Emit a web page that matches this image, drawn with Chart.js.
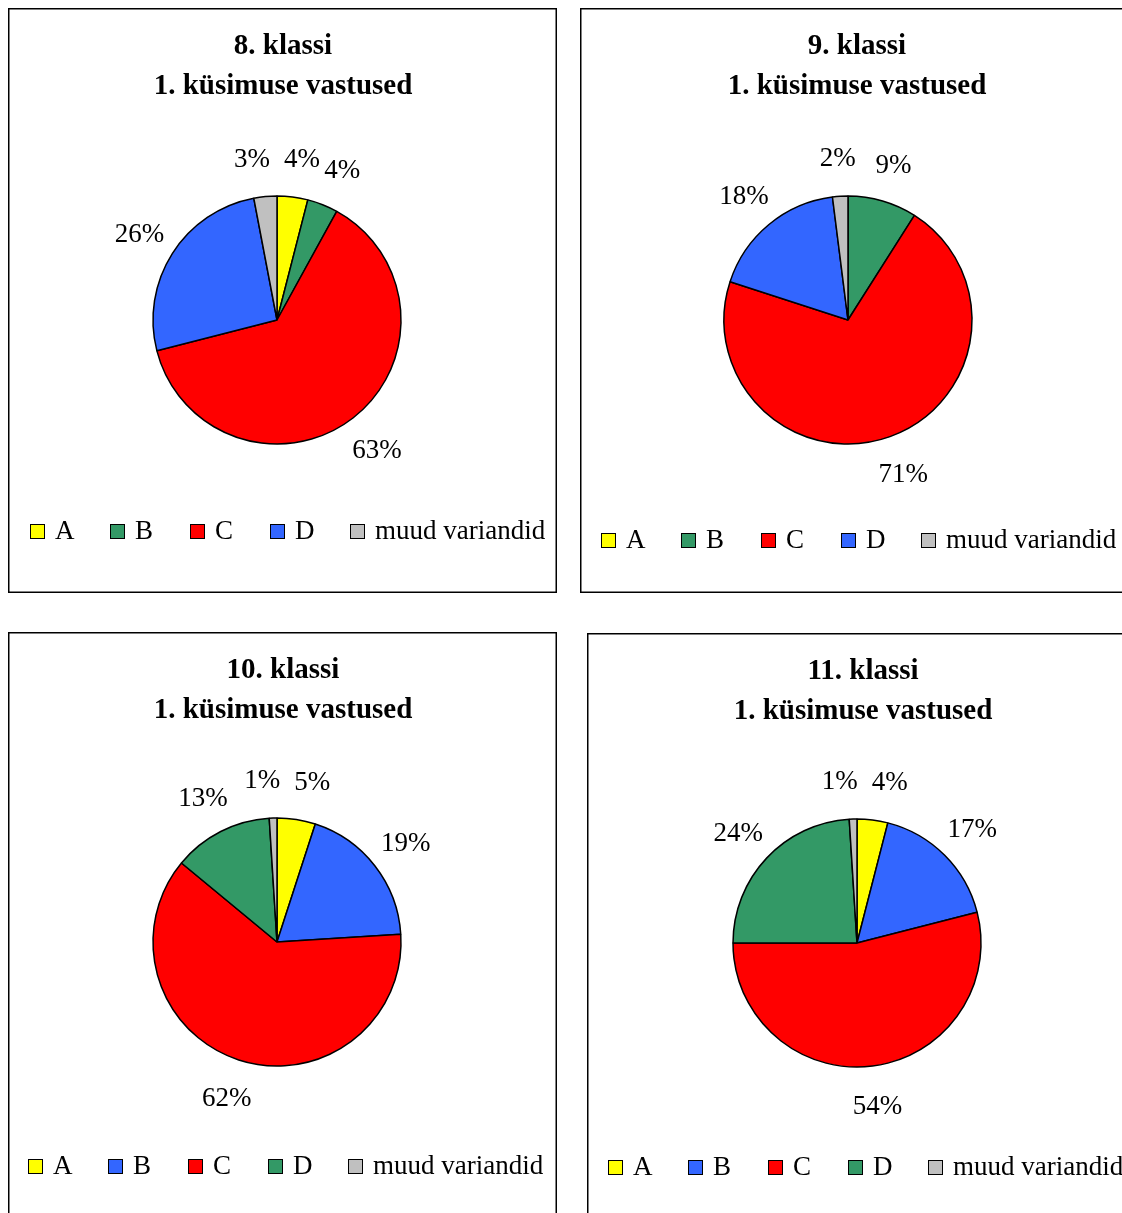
<!DOCTYPE html>
<html>
<head>
<meta charset="utf-8">
<script src="https://cdn.jsdelivr.net/npm/chart.js@4.4.0/dist/chart.umd.min.js"></script>
<style>
  body { margin: 0; background: #fff; width: 1122px; height: 1213px; overflow: hidden; position: relative; }
  .panel { position: absolute; }
</style>
</head>
<body>
<canvas class="panel" id="c8" style="left:8px;top:8px"></canvas>
<canvas class="panel" id="c9" style="left:580px;top:8px"></canvas>
<canvas class="panel" id="c10" style="left:8px;top:632px"></canvas>
<canvas class="panel" id="c11" style="left:587px;top:633px"></canvas>
<script>
//data
const answers = ["A", "B", "C", "D", "muud variandid"];
const grade8 = [4, 4, 63, 26, 3];
const grade9 = [0, 9, 71, 18, 2];
const grade10 = [5, 19, 62, 13, 1];
const grade11 = [4, 17, 54, 24, 1];
const subtitle = "1. küsimuse vastused";

//colours (8./9. and 10./11. use B and D the other way round)
const yellow = "#FFFF00", green = "#339966", red = "#FF0000", blue = "#3366FF", grey = "#C0C0C0";
const colorsLow = [yellow, green, red, blue, grey];
const colorsHigh = [yellow, blue, red, green, grey];

const W = 549, H = 585;
const serif = "'Liberation Serif', 'Times New Roman', serif";

// frame, titles, legend and outside % labels
const panelDecor = {
  id: "panelDecor",
  beforeDraw(chart) {
    const ctx = chart.ctx;
    ctx.save();
    ctx.strokeStyle = "#000";
    ctx.lineWidth = 1.5;
    ctx.strokeRect(0.75, 0.75, W - 1.5, H - 1.5);
    ctx.restore();
  },
  afterDatasetsDraw(chart, args, opts) {
    const ctx = chart.ctx;
    const ds = chart.data.datasets[0];
    const meta = chart.getDatasetMeta(0);
    ctx.save();

    // title
    ctx.fillStyle = "#000";
    ctx.textAlign = "center";
    ctx.textBaseline = "middle";
    ctx.font = "bold 29px " + serif;
    ctx.fillText(opts.title, opts.titleX, opts.titleY);
    ctx.fillText(subtitle, opts.titleX, opts.titleY + 40);

    // percentage labels
    ctx.font = "27px " + serif;
    const labs = [];
    meta.data.forEach((arc, i) => {
      const v = ds.data[i];
      if (!v) return;
      const mid = (arc.startAngle + arc.endAngle) / 2;
      const text = Math.round(v) + "%";
      labs.push({
        text,
        x: arc.x + Math.cos(mid) * opts.labelDist,
        y: arc.y + Math.sin(mid) * opts.labelDist + 2,
        w: ctx.measureText(text).width
      });
    });
    for (let i = 0; i < labs.length; i++) {
      for (let j = i + 1; j < labs.length; j++) {
        const a = labs[i], b = labs[j];
        if (Math.abs(a.y - b.y) > 24) continue;
        const need = (a.w + b.w) / 2 + 14 - Math.abs(a.x - b.x);
        if (need > 0) {
          const s = a.x < b.x ? -1 : 1;
          a.x += s * need / 2;
          b.x -= s * need / 2;
        }
      }
    }
    labs.forEach((l) => ctx.fillText(l.text, l.x, l.y));

    // legend
    ctx.textAlign = "left";
    chart.data.labels.forEach((lab, i) => {
      const x = opts.legendX + i * 80;
      ctx.fillStyle = ds.backgroundColor[i];
      ctx.fillRect(x, opts.legendY - 7, 15, 15);
      ctx.strokeStyle = "#000";
      ctx.lineWidth = 1;
      ctx.strokeRect(x + 0.5, opts.legendY - 6.5, 14, 14);
      ctx.fillStyle = "#000";
      ctx.fillText(lab, x + 25, opts.legendY + 1);
    });
    ctx.restore();
  }
};

function makePie(canvasId, title, values, colors, layout) {
  const canvas = document.getElementById(canvasId);
  canvas.width = W;
  canvas.height = H;
  // put the centre of the chart area on the pie centre
  const dx = 2 * layout.cx - W, dy = 2 * layout.cy - H;
  return new Chart(canvas, {
    type: "pie",
    data: {
      labels: answers,
      datasets: [{
        data: values,
        backgroundColor: colors,
        borderColor: "#000",
        borderWidth: 1.5,
        radius: 124
      }]
    },
    options: {
      responsive: false,
      animation: false,
      events: [],
      layout: {
        padding: {
          left: Math.max(dx, 0), right: Math.max(-dx, 0),
          top: Math.max(dy, 0), bottom: Math.max(-dy, 0)
        }
      },
      plugins: {
        legend: { display: false },
        title: { display: false },
        tooltip: { enabled: false },
        panelDecor: {
          title: title,
          titleX: layout.titleX,
          titleY: 39,
          labelDist: 163,
          legendX: layout.legendX,
          legendY: layout.legendY
        }
      }
    },
    plugins: [panelDecor]
  });
}

makePie("c8", "8. klassi", grade8, colorsLow, { cx: 269, cy: 312, titleX: 275, legendX: 22, legendY: 523 });
makePie("c9", "9. klassi", grade9, colorsLow, { cx: 268, cy: 312, titleX: 277, legendX: 21, legendY: 532 });
makePie("c10", "10. klassi", grade10, colorsHigh, { cx: 269, cy: 310, titleX: 275, legendX: 20, legendY: 534 });
makePie("c11", "11. klassi", grade11, colorsHigh, { cx: 270, cy: 310, titleX: 276, legendX: 21, legendY: 534 });
</script>
</body>
</html>
